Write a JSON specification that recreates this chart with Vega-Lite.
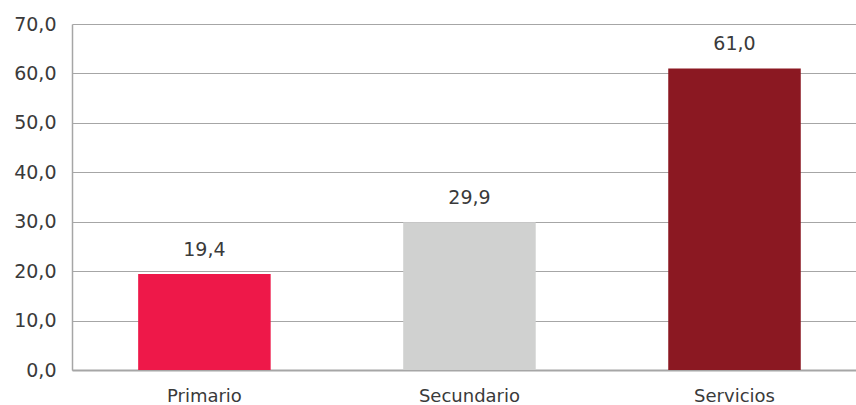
{
  "$schema": "https://vega.github.io/schema/vega-lite/v6.json",
  "width": 784,
  "height": 346,
  "autosize": "none",
  "padding": {"left": 72, "top": 24, "right": 0, "bottom": 35},
  "background": "white",
  "data": {
    "values": [
      {"sector": "Primario", "valor": 19.4, "color": "#EE1849"},
      {"sector": "Secundario", "valor": 29.9, "color": "#D0D1D0"},
      {"sector": "Servicios", "valor": 61.0, "color": "#8B1822"}
    ]
  },
  "encoding": {
    "x": {
      "field": "sector",
      "type": "nominal",
      "sort": null,
      "scale": {"paddingInner": 0.5, "paddingOuter": 0.229, "align": 0.545},
      "axis": {
        "title": null,
        "labelAngle": 0,
        "labelFont": "DejaVu Sans",
        "labelFontSize": 18,
        "labelColor": "#3A3A3A",
        "labelPadding": 17,
        "ticks": false,
        "domainColor": "#A6A6A6",
        "domainWidth": 2
      }
    },
    "y": {
      "field": "valor",
      "type": "quantitative",
      "scale": {"domain": [0, 70]},
      "axis": {
        "title": null,
        "values": [0, 10, 20, 30, 40, 50, 60, 70],
        "labelExpr": "replace(format(datum.value, '.1f'), '.', ',')",
        "labelFont": "DejaVu Sans",
        "labelFontSize": 19,
        "labelColor": "#3A3A3A",
        "labelPadding": 16,
        "ticks": false,
        "domainColor": "#A6A6A6",
        "domainWidth": 1.5,
        "gridColor": "#A6A6A6",
        "gridWidth": 1
      }
    }
  },
  "layer": [
    {
      "mark": {"type": "bar"},
      "encoding": {
        "color": {"field": "color", "type": "nominal", "scale": null}
      }
    },
    {
      "mark": {"type": "text", "baseline": "bottom", "dy": -14, "font": "DejaVu Sans", "fontSize": 19, "color": "#3A3A3A"},
      "encoding": {
        "text": {"field": "valor", "type": "quantitative", "format": ".1f"}
      }
    }
  ],
  "config": {
    "view": {"stroke": null},
    "locale": {"number": {"decimal": ",", "thousands": ".", "grouping": [3], "currency": ["", " €"]}}
  }
}
